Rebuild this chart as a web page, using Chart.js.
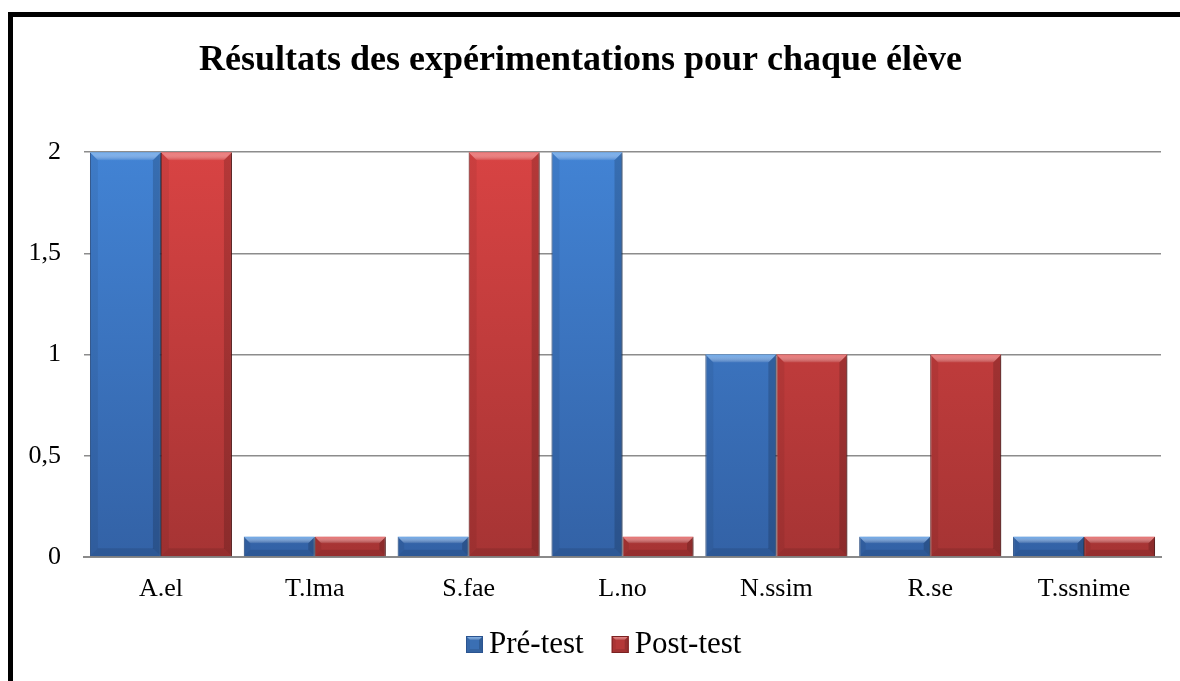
<!DOCTYPE html>
<html>
<head>
<meta charset="utf-8">
<script src="https://cdn.jsdelivr.net/npm/chart.js@4.4.0/dist/chart.umd.min.js"></script>
<style>
  html, body { margin: 0; padding: 0; background: #fff; overflow: hidden; }
  #wrap { position: relative; width: 1180px; height: 681px; }
  #chart { position: absolute; left: 0; top: 0; }
  #frame { position: absolute; left: 8px; top: 12px; width: 1200px; height: 700px;
           border: 5px solid #000; pointer-events: none; }
</style>
</head>
<body>
<div id="wrap">
  <canvas id="chart" width="1180" height="681"></canvas>
  <div id="frame"></div>
</div>
<script>
const categories = ['A.el', 'T.lma', 'S.fae', 'L.no', 'N.ssim', 'R.se', 'T.ssnime'];
const preTest = [2, 0.1, 0.1, 2, 1, 0.1, 0.1];
const postTest = [2, 0.1, 2, 0.1, 1, 1, 0.1];
const seriesNames = ['Pré-test', 'Post-test'];
const yTicks = [0, 0.5, 1, 1.5, 2];

const FONT = '"Liberation Serif", "Times New Roman", serif';
Chart.defaults.font.family = FONT;
Chart.defaults.color = '#000';

// vertical gradient over the plot area, solid colour for anything else
function barFill(base, top, bottom) {
  return (c) => {
    const a = c.chart.chartArea;
    if (c.type !== 'data' || !a) return base;
    const g = c.chart.ctx.createLinearGradient(0, a.top, 0, a.bottom);
    g.addColorStop(0, top);
    g.addColorStop(1, bottom);
    return g;
  };
}

const lights = ['#6aa8ec', '#ef6e6e'];
const solids = ['#3a6fb4', '#b53838'];
const edges = ['#2b5490', '#7a2222'];

function bevelRect(ctx, l, t, r, btm, b, light) {
  const g = ctx.createLinearGradient(0, t, 0, t + b);
  g.addColorStop(0, light);
  g.addColorStop(1, 'rgba(255,255,255,0.05)');
  ctx.fillStyle = g;
  ctx.beginPath();
  ctx.moveTo(l, t); ctx.lineTo(r, t); ctx.lineTo(r - b, t + b); ctx.lineTo(l + b, t + b);
  ctx.closePath(); ctx.fill();
  ctx.fillStyle = 'rgba(0,0,0,0.1)';
  ctx.beginPath();
  ctx.moveTo(l, btm); ctx.lineTo(r, btm); ctx.lineTo(r - b, btm - b); ctx.lineTo(l + b, btm - b);
  ctx.closePath(); ctx.fill();
  ctx.fillStyle = 'rgba(0,0,0,0.06)';
  ctx.beginPath();
  ctx.moveTo(l, t); ctx.lineTo(l + b, t + b); ctx.lineTo(l + b, btm - b); ctx.lineTo(l, btm);
  ctx.closePath(); ctx.fill();
  ctx.fillStyle = 'rgba(0,0,0,0.16)';
  ctx.beginPath();
  ctx.moveTo(r, t); ctx.lineTo(r - b, t + b); ctx.lineTo(r - b, btm - b); ctx.lineTo(r, btm);
  ctx.closePath(); ctx.fill();
}

// shadow under the bars and a bevel on top of them
const bevel = {
  id: 'bevel',
  beforeDatasetDraw(chart) {
    const ctx = chart.ctx;
    ctx.save();
    ctx.shadowColor = 'rgba(0,0,0,0.35)';
    ctx.shadowBlur = 5;
    ctx.shadowOffsetX = 2;
    ctx.shadowOffsetY = 1;
  },
  afterDatasetDraw(chart) {
    chart.ctx.restore();
  },
  afterDatasetsDraw(chart) {
    const ctx = chart.ctx;
    chart.data.datasets.forEach((ds, di) => {
      chart.getDatasetMeta(di).data.forEach((bar) => {
        const l = bar.x - bar.width / 2, r = bar.x + bar.width / 2;
        const b = Math.min(8, (bar.base - bar.y) / 3, bar.width / 4);
        ctx.save();
        bevelRect(ctx, l, bar.y, r, bar.base, b, lights[di]);
        ctx.restore();
      });
    });
  }
};

// legend drawn like the office one: bevelled square, tight gap to the text
const officeLegend = {
  id: 'officeLegend',
  afterDraw(chart) {
    const ctx = chart.ctx;
    ctx.save();
    ctx.font = '31px ' + FONT;
    ctx.textBaseline = 'alphabetic';
    ctx.fillStyle = '#000';
    let x = 466;
    const base = 653, size = 17;
    chart.data.datasets.forEach((ds, i) => {
      const t = base - size;
      ctx.fillStyle = solids[i];
      ctx.fillRect(x, t, size, size);
      ctx.save();
      bevelRect(ctx, x, t, x + size, t + size, 4, lights[i]);
      ctx.restore();
      ctx.strokeStyle = edges[i];
      ctx.lineWidth = 1;
      ctx.strokeRect(x + 0.5, t + 0.5, size - 1, size - 1);
      x += size + 6;
      ctx.fillStyle = '#000';
      ctx.fillText(ds.label, x, base);
      x += ctx.measureText(ds.label).width + 28;
    });
    ctx.restore();
  }
};

new Chart(document.getElementById('chart'), {
  type: 'bar',
  data: {
    labels: categories,
    datasets: [
      {
        label: seriesNames[0],
        data: preTest,
        backgroundColor: barFill(solids[0], '#4283d4', '#3362a6'),
        borderColor: edges[0],
        borderWidth: 1,
        categoryPercentage: 0.923,
        barPercentage: 1
      },
      {
        label: seriesNames[1],
        data: postTest,
        backgroundColor: barFill(solids[1], '#d84343', '#a63434'),
        borderColor: edges[1],
        borderWidth: 1,
        categoryPercentage: 0.923,
        barPercentage: 1
      }
    ]
  },
  options: {
    responsive: false,
    animation: false,
    layout: { padding: { left: 0, right: 19, top: 0, bottom: 64 } },
    plugins: {
      title: {
        display: true,
        text: 'Résultats des expérimentations pour chaque élève',
        font: { size: 36, weight: 'bold' },
        color: '#000',
        padding: { top: 39, bottom: 70 }
      },
      legend: { display: false },
      tooltip: { enabled: false }
    },
    scales: {
      x: {
        grid: { display: false },
        border: { display: true, color: '#8a8a8a', width: 2 },
        ticks: { font: { size: 26 }, color: '#000', padding: 9 },
        afterFit: (s) => { s.height = 60; }
      },
      y: {
        min: 0,
        max: 2,
        afterBuildTicks: (s) => { s.ticks = yTicks.map(v => ({ value: v })); },
        grid: { color: '#8c8c8c', lineWidth: 1.5, drawTicks: false },
        border: { display: false },
        ticks: {
          font: { size: 26 },
          color: '#000',
          padding: 23,
          callback: (v) => String(v).replace('.', ',')
        },
        afterFit: (s) => { s.width = 84; }
      }
    }
  },
  plugins: [bevel, officeLegend]
});
</script>
</body>
</html>
